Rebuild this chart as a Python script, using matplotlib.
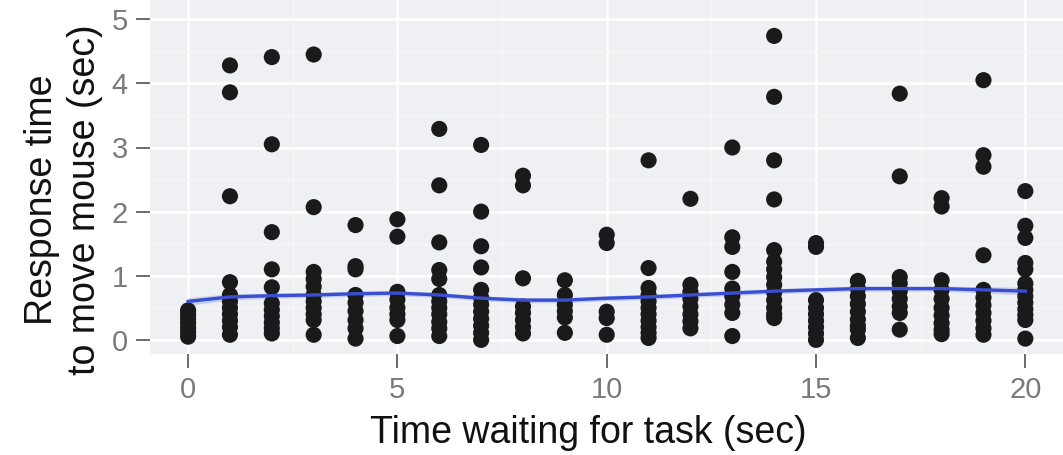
import numpy as np
import matplotlib.pyplot as plt

# response times, one list per waiting time (sec)
wait_times = list(range(21))
responses = [
    [0.05, 0.12, 0.19, 0.26, 0.33, 0.40, 0.46],                                   # 0
    [4.28, 3.86, 2.24, 0.90, 0.70, 0.60, 0.50, 0.40, 0.30, 0.20, 0.08],          # 1
    [4.41, 3.05, 1.68, 1.10, 0.82, 0.57, 0.47, 0.37, 0.27, 0.18, 0.10],          # 2
    [4.45, 2.07, 1.06, 0.95, 0.83, 0.70, 0.60, 0.50, 0.40, 0.31, 0.08],          # 3
    [1.79, 1.15, 1.10, 0.70, 0.58, 0.45, 0.31, 0.18, 0.02],                      # 4
    [1.88, 1.61, 0.75, 0.63, 0.50, 0.40, 0.31, 0.06],                            # 5
    [3.29, 2.41, 1.52, 1.09, 0.95, 0.70, 0.60, 0.50, 0.40, 0.28, 0.18, 0.06],    # 6
    [3.04, 2.00, 1.46, 1.13, 0.78, 0.66, 0.55, 0.44, 0.33, 0.22, 0.11, 0.00],    # 7
    [2.56, 2.41, 0.96, 0.52, 0.42, 0.31, 0.20, 0.10],                            # 8
    [0.93, 0.70, 0.55, 0.45, 0.35, 0.11],                                        # 9
    [1.64, 1.51, 0.44, 0.34, 0.08],                                              # 10
    [2.80, 1.12, 0.81, 0.70, 0.60, 0.50, 0.40, 0.30, 0.20, 0.11, 0.03],          # 11
    [2.20, 0.86, 0.75, 0.64, 0.52, 0.40, 0.29, 0.18],                            # 12
    [3.00, 1.60, 1.45, 1.06, 0.80, 0.68, 0.55, 0.42, 0.06],                      # 13
    [4.74, 3.79, 2.80, 2.19, 1.40, 1.22, 1.10, 0.98, 0.86, 0.74, 0.62, 0.50, 0.40, 0.34],  # 14
    [1.51, 1.45, 0.62, 0.50, 0.40, 0.30, 0.20, 0.10, 0.00],                      # 15
    [0.92, 0.80, 0.68, 0.56, 0.44, 0.32, 0.22, 0.16, 0.03],                      # 16
    [3.84, 2.55, 0.98, 0.88, 0.76, 0.64, 0.52, 0.42, 0.16],                      # 17
    [2.21, 2.08, 0.93, 0.78, 0.64, 0.50, 0.38, 0.26, 0.16, 0.09],                # 18
    [4.05, 2.88, 2.70, 1.32, 0.78, 0.66, 0.54, 0.42, 0.30, 0.18, 0.08],          # 19
    [2.32, 1.78, 1.59, 1.20, 1.10, 0.88, 0.78, 0.68, 0.58, 0.48, 0.39, 0.31, 0.02],  # 20
]

# smooth line (loess-like fit) read at each whole second
smooth_y = [0.60, 0.67, 0.69, 0.70, 0.72, 0.73, 0.70, 0.65, 0.62, 0.62, 0.65,
            0.67, 0.70, 0.73, 0.76, 0.78, 0.80, 0.80, 0.80, 0.78, 0.76]
band_half = [0.06, 0.05, 0.04, 0.04, 0.04, 0.04, 0.04, 0.04, 0.04, 0.04, 0.04,
             0.04, 0.04, 0.04, 0.04, 0.04, 0.04, 0.04, 0.04, 0.05, 0.06]

xticks = [0, 5, 10, 15, 20]
yticks = [0, 1, 2, 3, 4, 5]

plt.rcParams['font.family'] = ['Liberation Sans', 'DejaVu Sans']

fig = plt.figure(figsize=(10.63, 4.55), dpi=100)
ax = fig.add_axes([150 / 1063, 1 - 354 / 455, 1 - 150 / 1063, 354 / 455])
ax.set_facecolor('#eff0f3')

xs = np.concatenate([[x] * len(r) for x, r in zip(wait_times, responses)])
ys = np.concatenate(responses)

ax.scatter(xs, ys, s=135, color='#1a1a1a', edgecolors='none', zorder=3)

sy = np.array(smooth_y)
bh = np.array(band_half)
ax.fill_between(wait_times, sy - bh, sy + bh, color='#a9b4ea', alpha=0.6,
                linewidth=0, zorder=2)
ax.plot(wait_times, smooth_y, color='#3a4fd0', lw=2.4, zorder=4)

ax.set_xlim(-0.91, 20.9)
ax.set_ylim(-0.22, 5.3)
ax.set_xticks(xticks)
ax.set_yticks(yticks)
ax.set_xticks([2.5, 7.5, 12.5, 17.5], minor=True)
ax.set_yticks([0.5, 1.5, 2.5, 3.5, 4.5], minor=True)

ax.grid(which='major', color='white', lw=1.8, zorder=0)
ax.grid(which='minor', color='#f6f6f8', lw=1.0, zorder=0)
ax.set_axisbelow(True)
for sp in ax.spines.values():
    sp.set_visible(False)

ax.tick_params(which='major', length=10, width=1.3, color='#5f5f5f',
               labelcolor='#7a7a7a', labelsize=21, pad=6)
ax.tick_params(which='minor', length=0)

ax.set_xlabel('Time waiting for task (sec)', fontsize=27, color='#111111',
              labelpad=8)
ax.xaxis.label.set_x(0.48)
ax.set_ylabel('Response time\nto move mouse (sec)', fontsize=27,
              color='#111111', labelpad=6, linespacing=1.25)
ax.yaxis.label.set_y(0.435)

fig.savefig('out.png', dpi=100)
